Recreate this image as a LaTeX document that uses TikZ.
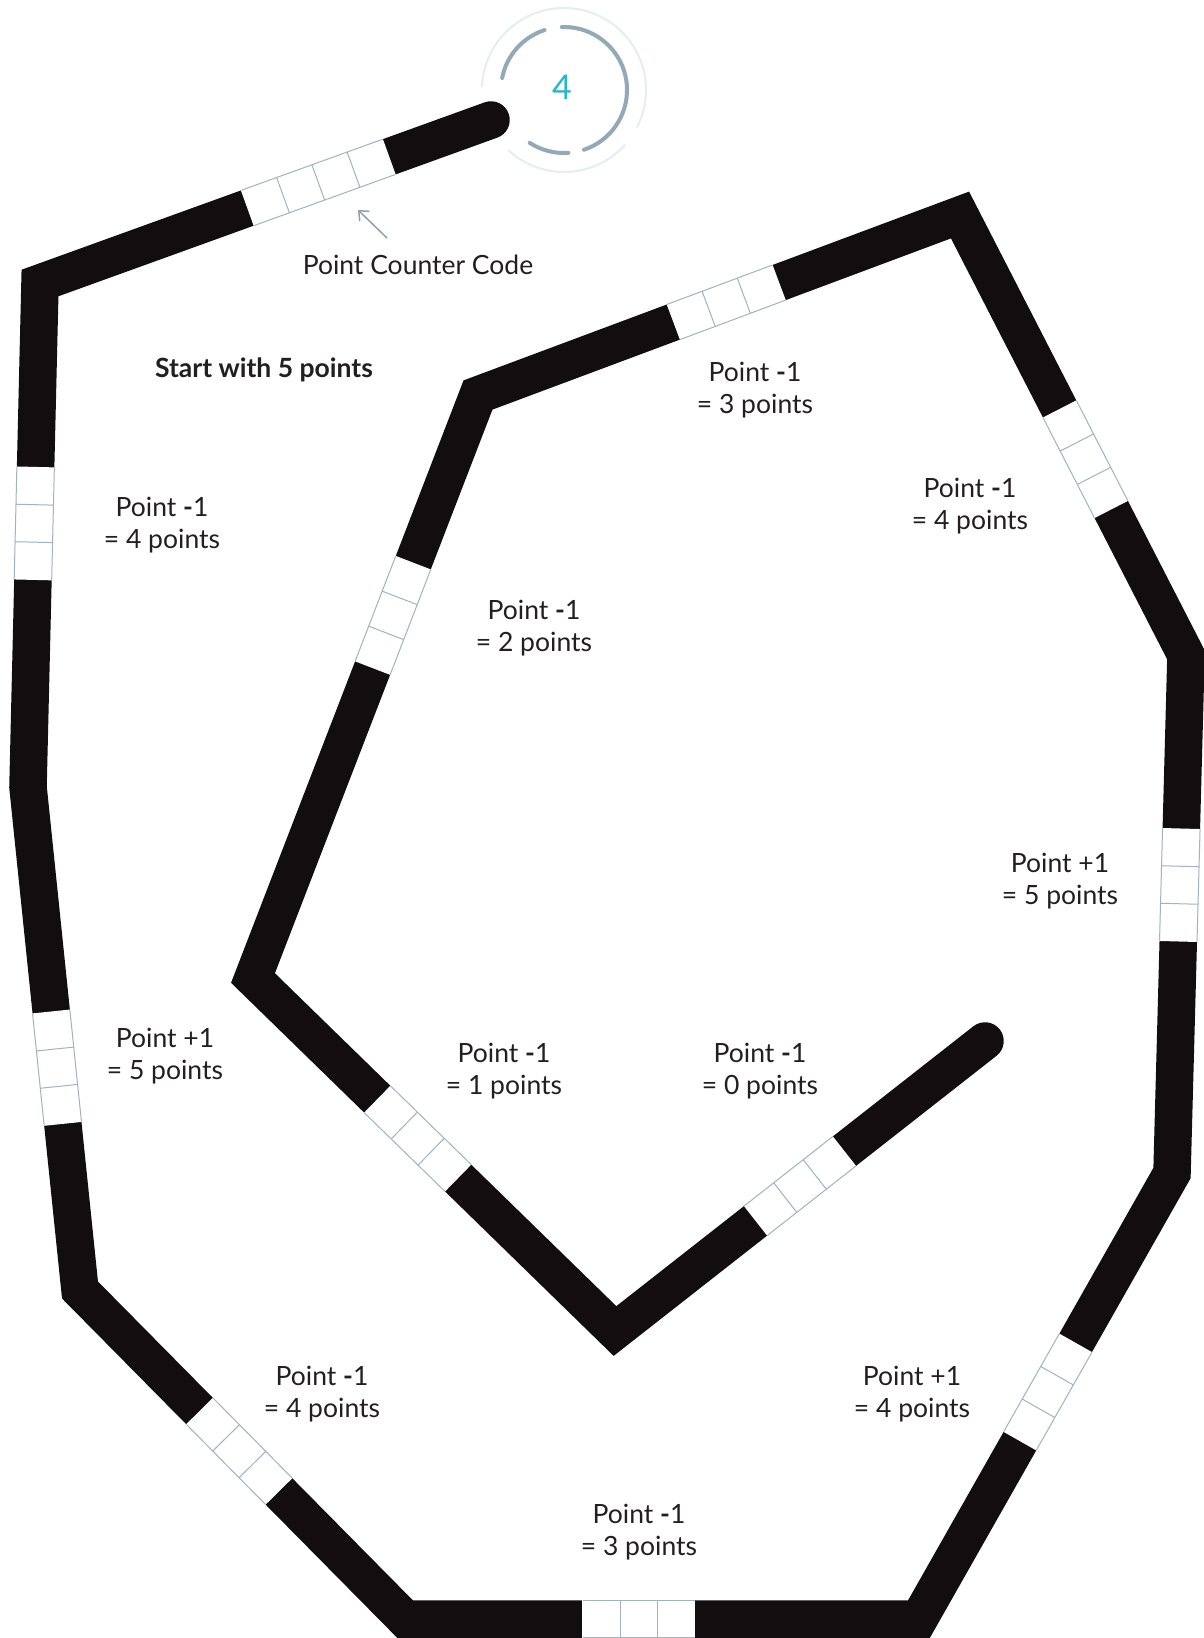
\documentclass[tikz,border=0pt]{standalone}
\usepackage{fontspec}
\setmainfont{Lato}
\usetikzlibrary{arrows.meta}
\definecolor{track}{HTML}{120D0F}
\definecolor{cellc}{HTML}{9FB3C2}
\definecolor{txt}{HTML}{231F20}
\definecolor{ringc}{HTML}{94A9B7}
\definecolor{ringl}{HTML}{E4EEF1}
\definecolor{numc}{HTML}{29B6CB}
\definecolor{arrc}{HTML}{8DA1AE}
\tikzset{
  trackline/.style={draw=track, line width=37.5pt, line join=miter, line cap=round},
  cellline/.style={draw=cellc, line width=1pt},
  lbl/.style={text=txt, align=center, font=\fontsize{26.5}{32.5}\selectfont, inner sep=0pt},
  cells3/.pic={
    \fill[white] (-56.5,-19.6) rectangle (56.5,19.6);
    \draw[cellline] (-56.25,-18.75) -- (56.25,-18.75) (-56.25,18.75) -- (56.25,18.75)
      (-18.75,-18.75) -- (-18.75,18.75) (18.75,-18.75) -- (18.75,18.75);
  },
  cells4/.pic={
    \fill[white] (-75.5,-19.6) rectangle (75.5,19.6);
    \draw[cellline] (-75,-18.75) -- (75,-18.75) (-75,18.75) -- (75,18.75)
      (-37.5,-18.75) -- (-37.5,18.75) (0,-18.75) -- (0,18.75) (37.5,-18.75) -- (37.5,18.75);
  },
  ringbig/.style={draw=ringl, line width=2pt},
  ringsmall/.style={draw=ringc, line width=4pt, line cap=round},
}
\begin{document}
\begin{tikzpicture}[x=1pt,y=-1pt]
\useasboundingbox[fill=white] (0,0) rectangle (1203,1638);
% track vertices
\coordinate (S) at (491,120);
\coordinate (A) at (40,283);
\coordinate (B) at (28,787);
\coordinate (C) at (80,1290);
\coordinate (D) at (405,1619);
\coordinate (E) at (919,1619);
\coordinate (F) at (1172,1173);
\coordinate (G) at (1186,655);
\coordinate (H) at (960,215);
\coordinate (I) at (478,395);
\coordinate (J) at (253,978);
\coordinate (K) at (615,1331);
\coordinate (T) at (985,1041);
\draw[trackline] (S) -- (A) -- (B) -- (C) -- (D) -- (E) -- (F) -- (G) -- (H) -- (I) -- (J) -- (K) -- (T);
% code cells
\path (S) -- (A) pic[pos=0.383, sloped] {cells4};
\path (A) -- (B) pic[pos=0.477, sloped] {cells3};
\path (B) -- (C) pic[pos=0.558, sloped] {cells3};
\path (C) -- (D) pic[pos=0.49, sloped] {cells3};
\path (D) -- (E) pic[pos=0.455, sloped] {cells3};
\path (E) -- (F) pic[pos=0.509, sloped] {cells3};
\path (F) -- (G) pic[pos=0.556, sloped] {cells3};
\path (G) -- (H) pic[pos=0.445, sloped] {cells3};
\path (H) -- (I) pic[pos=0.485, sloped] {cells3};
\path (I) -- (J) pic[pos=0.378, sloped] {cells3};
\path (J) -- (K) pic[pos=0.455, sloped] {cells3};
\path (K) -- (T) pic[pos=0.5, sloped] {cells3};
% counter ring
\coordinate (O) at (564,90);
\draw[ringbig] (O) ++(-178:82) arc[start angle=-178, end angle=27, radius=82];
\draw[ringbig] (O) ++(42:82) arc[start angle=42, end angle=133, radius=82];
\draw[ringsmall] (O) ++(-92:63) arc[start angle=-92, end angle=71.5, radius=63];
\draw[ringsmall] (O) ++(86:63) arc[start angle=86, end angle=123, radius=63];
\draw[ringsmall] (O) ++(-169:63) arc[start angle=-169, end angle=-108, radius=63];
\node[text=numc, font=\fontsize{34}{34}\selectfont, inner sep=0pt] (num) at (562,87) {4};
% labels
\node[lbl] (pcc) at (418,265) {Point Counter Code};
\coordinate (arA) at (387,238);
\coordinate (arB) at (358,210);
\draw[draw=arrc, line width=1.5pt, -{Straight Barb[length=8pt,width=14pt]}] (arA) -- (arB);
\node[lbl, font=\bfseries\fontsize{26.5}{32.5}\selectfont] (start) at (264,370) {Start with 5 points};
\node[lbl] (l1) at (162,525) {Point \textbf{-}1\\= 4 points};
\node[lbl] (l2) at (534,628) {Point \textbf{-}1\\= 2 points};
\node[lbl] (l3) at (755,390) {Point \textbf{-}1\\= 3 points};
\node[lbl] (l4) at (970,506) {Point \textbf{-}1\\= 4 points};
\node[lbl] (l5) at (1060,881) {Point +1\\= 5 points};
\node[lbl] (l6) at (165,1056) {Point +1\\= 5 points};
\node[lbl] (l7) at (504,1071) {Point \textbf{-}1\\= 1 points};
\node[lbl] (l8) at (760,1071) {Point \textbf{-}1\\= 0 points};
\node[lbl] (l9) at (322,1394) {Point \textbf{-}1\\= 4 points};
\node[lbl] (l10) at (912,1394) {Point +1\\= 4 points};
\node[lbl] (l11) at (639,1532) {Point \textbf{-}1\\= 3 points};
\end{tikzpicture}
\end{document}
